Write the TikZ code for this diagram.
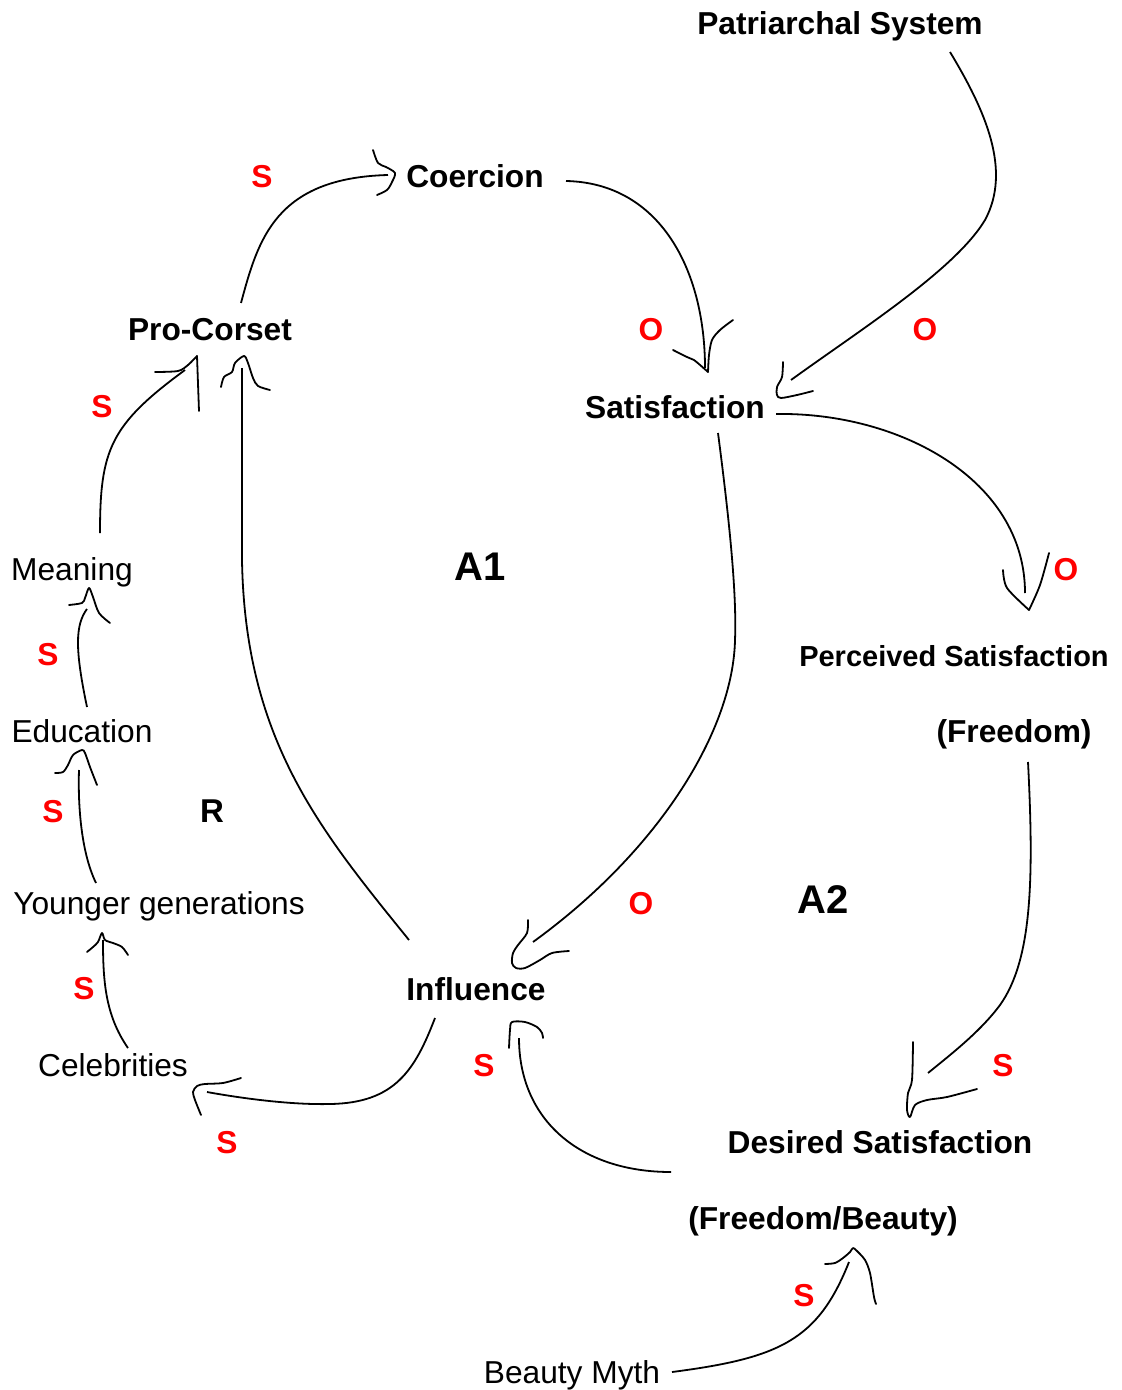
\documentclass[tikz,border=0pt]{standalone}
\usepackage{fontspec}
\setmainfont{Liberation Sans}
\definecolor{polred}{RGB}{255,0,0}
\tikzset{
  every node/.style={inner sep=0pt, outer sep=0pt},
  lab/.style={anchor=base, font=\fontsize{15.85}{19}\selectfont\bfseries},
  labsmall/.style={anchor=base, font=\fontsize{14.5}{17}\selectfont\bfseries},
  plain/.style={anchor=base, font=\fontsize{15.85}{19}\selectfont},
  pol/.style={anchor=base, font=\fontsize{15.85}{19}\selectfont\bfseries, text=polred},
  loopname/.style={anchor=base, font=\fontsize{20}{24}\selectfont\bfseries},
  link/.style={line width=0.9pt},
  headline/.style={line width=0.9pt, line join=round, line cap=round},
}
\begin{document}
\begin{tikzpicture}[x=0.5pt, y=-0.5pt]
\useasboundingbox (0,0) rectangle (1122,1390);

% ---------- variables ----------
\node[lab] (patr) at (840,35) {Patriarchal System};
\node[lab] (coer) at (475,188) {Coercion};
\node[lab] (pro) at (210,341) {Pro-Corset};
\node[lab] (sat) at (675,418) {Satisfaction};
\node[plain] (mean) at (72,580) {Meaning};
\node[labsmall] (perc) at (954,666) {Perceived Satisfaction};
\node[lab] (free) at (1014,742) {(Freedom)};
\node[plain] (edu) at (82,742) {Education};
\node[plain] (young) at (159,914) {Younger generations};
\node[lab] (infl) at (476,1000) {Influence};
\node[plain] (celeb) at (113,1076) {Celebrities};
\node[lab] (des) at (880,1153) {Desired Satisfaction};
\node[lab] (freeb) at (823,1229) {(Freedom/Beauty)};
\node[plain] (myth) at (572,1383) {Beauty Myth};

% ---------- loop names ----------
\node[loopname] (a1) at (480,580) {A1};
\node[loopname] (a2) at (823,913) {A2};
\node[lab, font=\fontsize{16.5}{19}\selectfont\bfseries] (r) at (212,822) {R};

% ---------- polarities ----------
\node[pol] (p1) at (262,188) {S};
\node[pol] (p2) at (102,417) {S};
\node[pol] (p3) at (651,341) {O};
\node[pol] (p4) at (925,341) {O};
\node[pol] (p5) at (1066,580) {O};
\node[pol] (p6) at (48,665) {S};
\node[pol] (p7) at (53,822) {S};
\node[pol] (p8) at (84,999) {S};
\node[pol] (p9) at (227,1153) {S};
\node[pol] (p10) at (484,1076) {S};
\node[pol] (p11) at (1003,1076) {S};
\node[pol] (p12) at (804,1306) {S};
\node[pol] (p13) at (641,914) {O};

% ---------- connector end points ----------
\coordinate (pro-out) at (241,303);
\coordinate (coer-in) at (388,175);
\coordinate (coer-out) at (566,181);
\coordinate (sat-in1) at (705,368);
\coordinate (patr-out) at (950,52);
\coordinate (sat-in2) at (791,380);
\coordinate (sat-out1) at (776,414);
\coordinate (perc-in) at (1025,593);
\coordinate (sat-out2) at (718,433);
\coordinate (infl-in1) at (533,942);
\coordinate (infl-out1) at (409,940);
\coordinate (pro-in1) at (242,368);
\coordinate (mean-out) at (100,533);
\coordinate (pro-in2) at (185,370);
\coordinate (edu-out) at (87,707);
\coordinate (mean-in) at (87,609);
\coordinate (young-out) at (96,883);
\coordinate (edu-in) at (79,770);
\coordinate (celeb-out) at (128,1048);
\coordinate (young-in) at (103,940);
\coordinate (infl-out2) at (435,1018);
\coordinate (celeb-in) at (207,1092);
\coordinate (freeb-out) at (671,1172);
\coordinate (infl-in2) at (519,1038);
\coordinate (free-out) at (1028,762);
\coordinate (des-in) at (928,1073);
\coordinate (myth-out) at (672,1372);
\coordinate (freeb-in) at (849,1262);

% ---------- connectors ----------
\draw[link] (pro-out) .. controls (258,240) and (275,178) .. (coer-in);
\draw[link] (coer-out) .. controls (660,183) and (705,270) .. (sat-in1);
\draw[link] (patr-out) .. controls (985,110) and (1012,170) .. (985,220)
                       .. controls (955,270) and (860,330) .. (sat-in2);
\draw[link] (sat-out1) .. controls (900,412) and (1025,480) .. (perc-in);
\draw[link] (sat-out2) .. controls (728,510) and (737,590) .. (735,640)
                       .. controls (733,730) and (660,850) .. (infl-in1);
\draw[link] (infl-out1) .. controls (320,830) and (245,740) .. (242,560) -- (pro-in1);
\draw[link] (mean-out) .. controls (100,450) and (110,425) .. (pro-in2);
\draw[link] (edu-out) .. controls (75,650) and (75,625) .. (mean-in);
\draw[link] (young-out) .. controls (80,850) and (78,800) .. (edu-in);
\draw[link] (celeb-out) .. controls (105,1015) and (103,980) .. (young-in);
\draw[link] (infl-out2) .. controls (415,1070) and (395,1103) .. (330,1104)
                        .. controls (290,1105) and (240,1098) .. (celeb-in);
\draw[link] (freeb-out) .. controls (580,1172) and (519,1120) .. (infl-in2);
\draw[link] (free-out) .. controls (1034,880) and (1032,960) .. (1000,1005)
                       .. controls (980,1032) and (950,1055) .. (des-in);
\draw[link] (myth-out) .. controls (780,1358) and (818,1340) .. (freeb-in);

% ---------- hand-drawn arrowheads ----------
\draw[headline] plot[smooth, tension=0.5] coordinates {(373,150) (378,163) (386,167) (395,173) (392,182) (387,190) (377,195)};
\draw[headline] plot[smooth, tension=0.5] coordinates {(673,350) (687,357) (694,360) (708,372)};
\draw[headline] plot[smooth, tension=0.5] coordinates {(708,372) (709,355) (712,340) (720,330) (733,320)};
\draw[headline] plot[smooth, tension=0.5] coordinates {(783,362) (782,377) (777,387) (777,395) (781,398) (797,395) (813,391)};
\draw[headline] plot[smooth, tension=0.5] coordinates {(1003,570) (1007,588) (1029,610)};
\draw[headline] plot[smooth, tension=0.5] coordinates {(1029,610) (1040,585) (1049,553)};
\draw[headline] plot[smooth, tension=0.5] coordinates {(528,920) (527,933) (518,945) (513,953) (512,963) (516,968) (525,968) (540,960) (552,953) (569,951)};
\draw[headline] plot[smooth, tension=0.5] coordinates {(221,387) (224,377) (232,372) (235,363) (244,356) (248,363) (253,378) (258,386) (270,390)};
\draw[headline] plot[smooth, tension=0.5] coordinates {(155,372) (178,371) (188,365) (197,356)};
\draw[headline] (197,356) -- (199,411);
\draw[headline] plot[smooth, tension=0.5] coordinates {(69,605) (82,603) (85,598) (89,588) (93,597) (99,613) (110,623)};
\draw[headline] plot[smooth, tension=0.5] coordinates {(55,773) (63,772) (68,765) (73,755) (82,750) (85,753) (90,767) (97,785)};
\draw[headline] plot[smooth, tension=0.5] coordinates {(87,952) (93,947) (98,942) (102,933) (105,940) (113,943) (122,947) (128,955)};
\draw[headline] plot[smooth, tension=0.5] coordinates {(241,1078) (223,1083) (205,1084) (197,1086) (193,1092) (195,1100) (201,1115)};
\draw[headline] plot[smooth, tension=0.5] coordinates {(509,1048) (510,1030) (512,1022) (525,1022) (537,1027) (542,1033) (543,1038)};
\draw[headline] plot[smooth, tension=0.5] coordinates {(913,1042) (912,1080) (908,1093) (907,1110) (910,1117) (915,1105) (927,1100) (947,1097) (977,1089)};
\draw[headline] plot[smooth, tension=0.5] coordinates {(825,1264) (835,1263) (843,1258) (850,1252) (853,1248) (857,1251) (865,1260) (870,1273) (874,1297) (876,1304)};
\end{tikzpicture}
\end{document}
